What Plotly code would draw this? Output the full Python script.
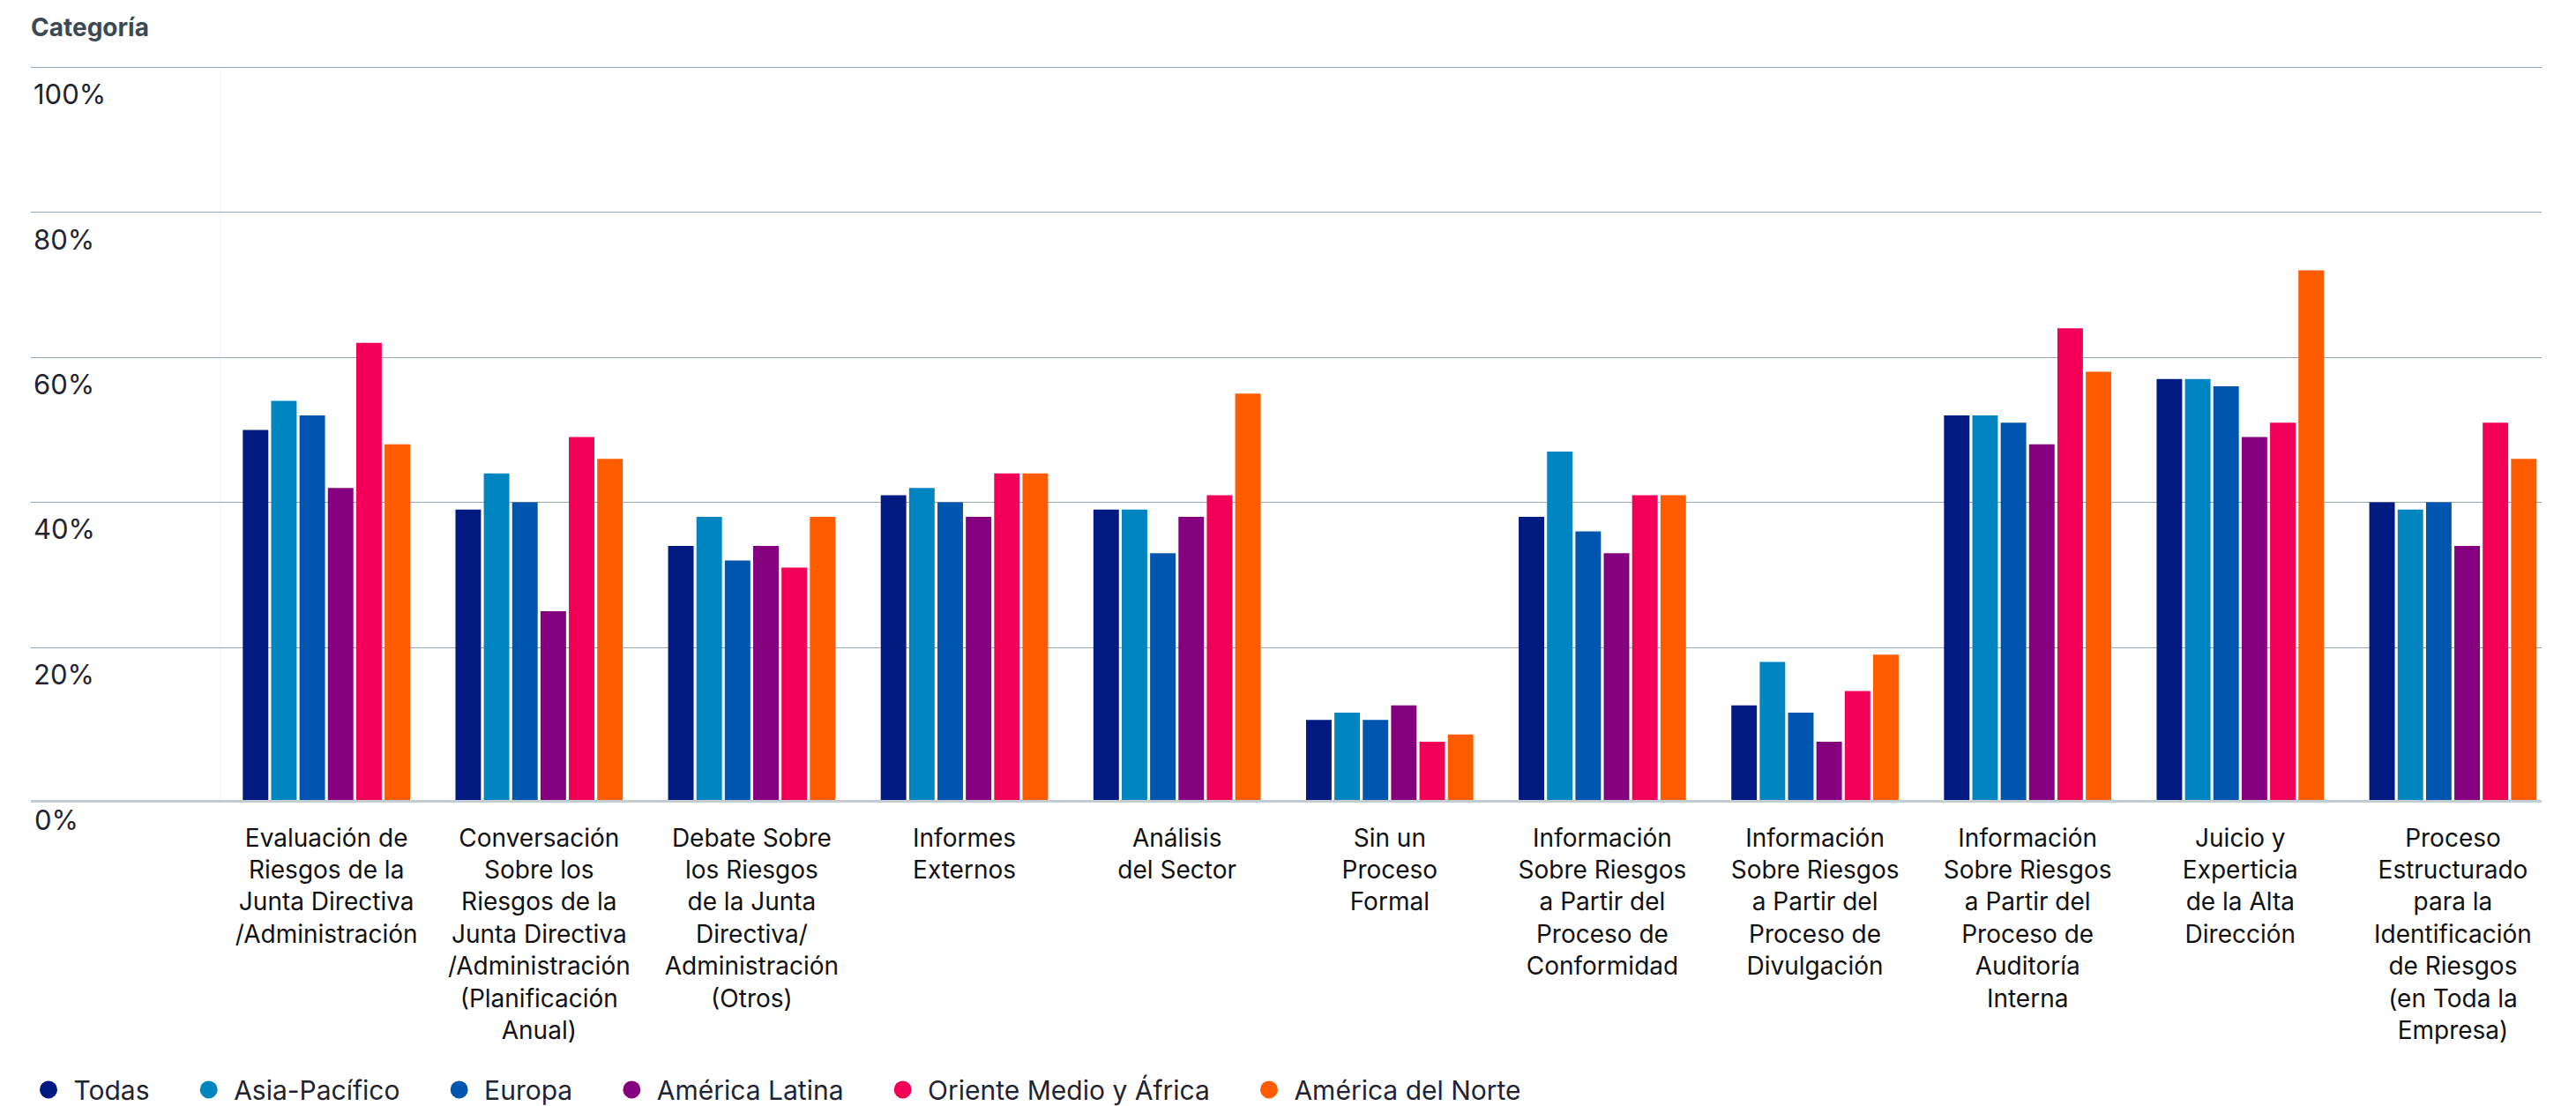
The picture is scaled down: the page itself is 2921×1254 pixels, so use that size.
import plotly.graph_objects as go

# Categories (x axis), line breaks as shown under each group
categorias = [
    "Evaluación de<br>Riesgos de la<br>Junta Directiva<br>/Administración",
    "Conversación<br>Sobre los<br>Riesgos de la<br>Junta Directiva<br>/Administración<br>(Planificación<br>Anual)",
    "Debate Sobre<br>los Riesgos<br>de la Junta<br>Directiva/<br>Administración<br>(Otros)",
    "Informes<br>Externos",
    "Análisis<br>del Sector",
    "Sin un<br>Proceso<br>Formal",
    "Información<br>Sobre Riesgos<br>a Partir del<br>Proceso de<br>Conformidad",
    "Información<br>Sobre Riesgos<br>a Partir del<br>Proceso de<br>Divulgación",
    "Información<br>Sobre Riesgos<br>a Partir del<br>Proceso de<br>Auditoría<br>Interna",
    "Juicio y<br>Experticia<br>de la Alta<br>Dirección",
    "Proceso<br>Estructurado<br>para la<br>Identificación<br>de Riesgos<br>(en Toda la<br>Empresa)",
]

# Percentage of respondents per region
todas = [50, 39, 34, 41, 39, 10, 38, 12, 52, 57, 40]
asia_pacifico = [54, 44, 38, 42, 39, 11, 47, 18, 52, 57, 39]
europa = [52, 40, 32, 40, 33, 10, 36, 11, 51, 56, 40]
america_latina = [42, 25, 34, 38, 38, 12, 33, 7, 48, 49, 34]
oriente_medio_africa = [62, 49, 31, 44, 41, 7, 41, 14, 64, 51, 51]
america_norte = [48, 46, 38, 44, 55, 8, 41, 19, 58, 72, 46]

regiones = ["Todas", "Asia-Pacífico", "Europa", "América Latina",
            "Oriente Medio y África", "América del Norte"]
series = [todas, asia_pacifico, europa, america_latina,
          oriente_medio_africa, america_norte]
colores = ["#001A82", "#0085C0", "#0055AE", "#84007F", "#F20057", "#FF5C00"]

y_ticks = [0, 20, 40, 60, 80, 100]
y_tick_labels = ["0%", "20%", "40%", "60%", "80%", "100%"]

FONT = "Inter, 'Liberation Sans', Arial, sans-serif"
Y_FLOOR = -1.03   # axis floor sits a little under 0%
Y_TOP = 100.15    # leave room so the 100% gridline is drawn
LABEL_DROP = 31   # tick labels hang below their gridline (px)

fig = go.Figure()

for nombre, valores, color in zip(regiones, series, colores):
    fig.add_trace(go.Bar(
        x=categorias,
        y=[v - Y_FLOOR for v in valores],
        base=Y_FLOOR,
        name=nombre,
        marker=dict(color=color, line=dict(width=0)),
        showlegend=False,
        customdata=valores,
        hovertemplate="%{customdata}%<extra>" + nombre + "</extra>",
    ))

# Round legend keys
for nombre, color in zip(regiones, colores):
    fig.add_trace(go.Scatter(
        x=[None], y=[None], mode="markers",
        name="\u00a0" + nombre + "\u00a0" * 5,
        marker=dict(symbol="circle", size=16, color=color,
                    line=dict(color=color, width=4)),
        showlegend=True,
    ))

fig.add_shape(type="line", xref="x", yref="y", x0=-0.5, x1=-0.5,
              y0=Y_FLOOR, y1=100, line=dict(color="#f1f2f3", width=1),
              layer="below")

# The 0% label sits under the plot floor, so it is placed as an annotation
fig.add_annotation(
    x=0, xref="paper", y=y_ticks[0], yref="y",
    text=y_tick_labels[0], showarrow=False,
    xanchor="left", yanchor="middle", xshift=2, yshift=-LABEL_DROP,
    font=dict(family=FONT, size=31, color="#1f2430"),
)

fig.update_layout(
    width=2921,
    height=1254,
    margin=dict(l=35, r=39, t=75, b=347, pad=0, autoexpand=False),
    paper_bgcolor="white",
    plot_bgcolor="white",
    font=dict(family=FONT, color="#1f2430"),
    barmode="group",
    bargap=0.2,
    bargroupgap=0.1,
    title=dict(
        text="<b>Categoría</b>",
        x=35 / 2921, xref="container", xanchor="left",
        y=1 - 31 / 1254, yref="container", yanchor="middle",
        font=dict(family=FONT, size=28, color="#3a4a55"),
    ),
    xaxis=dict(
        type="category",
        range=[-1.39, 10.417],
        showgrid=False,
        zeroline=False,
        showline=True,
        linecolor="#c3ccd1",
        linewidth=3,
        ticks="",
        ticklabelstandoff=16,
        tickfont=dict(family=FONT, size=28, color="#111111"),
        automargin=False,
        fixedrange=True,
    ),
    yaxis=dict(
        range=[Y_FLOOR, Y_TOP],
        tickvals=y_ticks[1:],
        ticktext=y_tick_labels[1:],
        ticks="",
        ticklabelposition="inside",
        ticklabelshift=LABEL_DROP,
        tickfont=dict(family=FONT, size=31, color="#1f2430"),
        showgrid=False,
        zeroline=False,
        showline=False,
        minor=dict(tickvals=y_ticks[1:], showgrid=True,
                   gridcolor="#95a6b0", gridwidth=1.3),
        automargin=False,
        fixedrange=True,
    ),
    legend=dict(
        orientation="h",
        x=0, xanchor="left",
        y=-0.3947, yanchor="middle",
        font=dict(family=FONT, size=30, color="#1f2430"),
        itemsizing="trace",
        bgcolor="rgba(0,0,0,0)",
        traceorder="normal",
    ),
)

fig.write_html("out.html")
